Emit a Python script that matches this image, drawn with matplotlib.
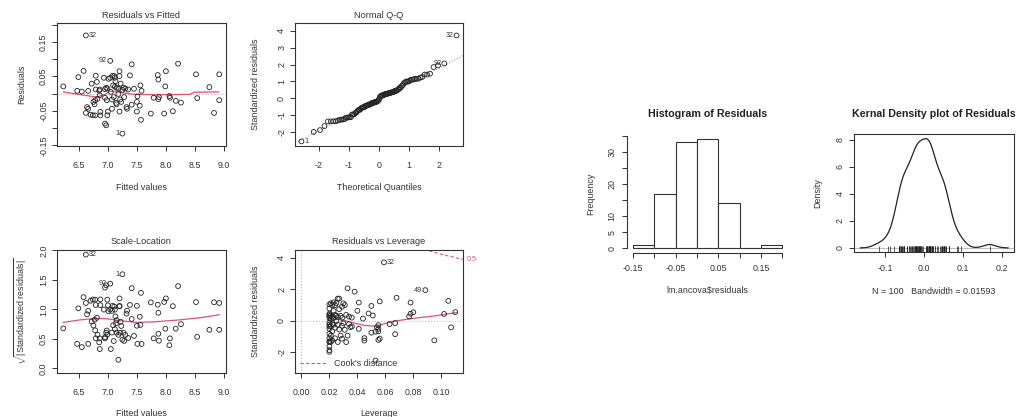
import numpy as np
import matplotlib
matplotlib.use("Agg")
import matplotlib.pyplot as plt
from matplotlib.lines import Line2D
from matplotlib import transforms
from statistics import NormalDist

plt.rcParams['font.family'] = ['Liberation Sans', 'DejaVu Sans']
plt.rcParams['mathtext.fontset'] = 'custom'
plt.rcParams['mathtext.rm'] = 'Liberation Sans'
plt.rcParams['mathtext.it'] = 'Liberation Sans:italic'
plt.rcParams['axes.unicode_minus'] = False

# model output, sorted by residual (largest first)
fitted = [6.62, 7.04, 8.21, 7.41, 6.58, 7.20, 8.00, 8.52, 8.92, 7.86,
          7.38, 7.08, 6.79, 7.11, 7.20, 6.49, 6.93, 7.04, 7.12, 7.01,
          7.87, 7.13, 6.81, 6.72, 7.22, 7.09, 7.56, 6.23, 7.99, 7.12,
          8.75, 6.97, 7.15, 7.27, 6.99, 7.18, 7.30, 7.45, 6.95, 6.79,
          6.86, 7.35, 7.25, 6.85, 6.47, 6.66, 7.58, 6.55, 7.05, 7.18,
          6.86, 8.06, 7.51, 7.10, 7.28, 7.88, 6.95, 7.79, 8.07, 8.54,
          6.82, 7.87, 7.07, 7.21, 6.78, 6.98, 8.92, 8.17, 6.75, 7.23,
          7.50, 8.26, 7.14, 6.77, 7.15, 7.41, 7.55, 6.64, 7.32, 6.66,
          7.07, 7.33, 8.12, 7.00, 7.20, 7.50, 6.87, 6.62, 8.83, 7.74,
          7.97, 6.70, 6.74, 6.78, 6.87, 6.99, 7.57, 6.95, 6.97, 7.25]
resid = [0.169, 0.095, 0.087, 0.085, 0.066, 0.065, 0.065, 0.056, 0.056, 0.054,
         0.053, 0.052, 0.052, 0.051, 0.051, 0.048, 0.046, 0.046, 0.046, 0.043,
         0.041, 0.036, 0.034, 0.029, 0.029, 0.024, 0.024, 0.021, 0.021, 0.020,
         0.019, 0.017, 0.017, 0.017, 0.015, 0.015, 0.015, 0.014, 0.013, 0.012,
         0.012, 0.012, 0.011, 0.009, 0.008, 0.008, 0.008, 0.006, 0.005, -0.001,
         -0.005, -0.007, -0.008, -0.010, -0.010, -0.010, -0.012, -0.012, -0.012, -0.013,
         -0.015, -0.016, -0.017, -0.017, -0.019, -0.019, -0.019, -0.021, -0.024, -0.024,
         -0.024, -0.026, -0.027, -0.031, -0.031, -0.032, -0.035, -0.039, -0.039, -0.044,
         -0.044, -0.044, -0.051, -0.052, -0.052, -0.052, -0.053, -0.056, -0.056, -0.058,
         -0.058, -0.061, -0.063, -0.063, -0.063, -0.063, -0.076, -0.087, -0.092, -0.116]
leverage = [0.059, 0.033, 0.0886, 0.038, 0.068, 0.026, 0.027, 0.105, 0.056, 0.023,
            0.041, 0.025, 0.078, 0.021, 0.030, 0.020, 0.024, 0.031, 0.022, 0.050,
            0.029, 0.020, 0.027, 0.040, 0.023, 0.080, 0.110, 0.048, 0.020, 0.078,
            0.102, 0.020, 0.032, 0.024, 0.051, 0.025, 0.021, 0.028, 0.020, 0.034,
            0.022, 0.077, 0.026, 0.036, 0.020, 0.029, 0.023, 0.044, 0.021, 0.025,
            0.020, 0.067, 0.030, 0.022, 0.034, 0.063, 0.020, 0.023, 0.026, 0.055,
            0.029, 0.021, 0.036, 0.020, 0.054, 0.035, 0.107, 0.024, 0.055, 0.020,
            0.041, 0.027, 0.031, 0.055, 0.022, 0.053, 0.050, 0.020, 0.067, 0.028,
            0.021, 0.033, 0.045, 0.056, 0.020, 0.024, 0.029, 0.055, 0.095, 0.022,
            0.045, 0.020, 0.026, 0.021, 0.032, 0.020, 0.020, 0.020, 0.020, 0.053]
sigma = 0.0468
n_coef = 4
bandwidth = 0.01593

# observation ids printed next to the extreme points
id_rows = [0, 1, 99]
id_names = ['32', '92', '1']
cook_rows = [0, 2]
cook_names = ['32', '49']

# red smoother lines
smooth1_x = [6.23, 6.52, 6.81, 6.95, 7.04, 7.15, 7.44, 7.73, 8.13, 8.42, 8.48, 8.91]
smooth1_y = [0.005, -0.003, -0.010, -0.002, 0.007, 0.005, -0.002, -0.003, -0.003, -0.002, 0.004, 0.005]
smooth3_x = [6.23, 6.5, 6.8, 7.0, 7.2, 7.5, 7.8, 8.2, 8.6, 8.92]
smooth3_y = [0.78, 0.82, 0.85, 0.84, 0.81, 0.78, 0.79, 0.82, 0.86, 0.91]
smooth4_x = [0.020, 0.027, 0.035, 0.045, 0.053, 0.065, 0.080, 0.095, 0.111]
smooth4_y = [0.02, 0.12, -0.10, -0.30, -0.36, -0.05, 0.15, 0.30, 0.52]

hist_edges = [-0.15, -0.10, -0.05, 0.0, 0.05, 0.10, 0.15, 0.20]

fitted = np.array(fitted)
resid = np.array(resid)
leverage = np.array(leverage)
std_res = resid / (sigma * np.sqrt(1 - leverage))
n = len(resid)

W, H = 1016, 417
fig = plt.figure(figsize=(W / 100, H / 100), dpi=100)
dark = '#333333'
red = '#DF536B'
grey = '#BEBEBE'
fs = 6.4


def box(x0, y0, x1, y1):
    return fig.add_axes([x0 / W, 1 - y1 / H, (x1 - x0) / W, (y1 - y0) / H])


def ftext(x, y, s, **kw):
    kw.setdefault('fontsize', fs)
    kw.setdefault('color', dark)
    fig.text(x / W, 1 - y / H, s, ha='center', va='center', **kw)


def style(ax, xpad=7.3, ypad=2.8):
    for sp in ax.spines.values():
        sp.set_color(dark)
        sp.set_linewidth(0.8)
    ax.tick_params(direction='out', length=3.6, width=0.7, colors=dark,
                   labelsize=fs)
    ax.tick_params(axis='x', pad=xpad)
    ax.tick_params(axis='y', pad=ypad, labelrotation=90)
    for lab in ax.get_yticklabels():
        lab.set_va('center')


def pts(ax, x, y):
    ax.scatter(x, y, s=12, facecolors='none', edgecolors='#222222',
               linewidths=0.6, zorder=3)


def label(ax, x, y, s, side):
    off = 2.2 if side == 'r' else -2.2
    ax.annotate(s, (x, y), xytext=(off, 0), textcoords='offset points',
                ha='left' if side == 'r' else 'right', va='center',
                fontsize=5.2, color=dark)


# ---- Residuals vs Fitted
ax1 = box(57, 23, 225.5, 146)
pts(ax1, fitted, resid)
ax1.axhline(0, color=grey, ls=':', lw=0.8)
ax1.plot(smooth1_x, smooth1_y, color=red, lw=0.9)
ax1.set_xlim(6.122, 9.028)
ax1.set_ylim(-0.152, 0.205)
ax1.set_xticks([6.5, 7.0, 7.5, 8.0, 8.5, 9.0])
ax1.set_yticks([-0.15, -0.10, -0.05, 0.0, 0.05, 0.10, 0.15, 0.20])
ax1.set_yticklabels(['-0.15', '', '-0.05', '', '0.05', '', '0.15', ''])
style(ax1)
for r, s, side in zip(id_rows, id_names, ['r', 'l', 'l']):
    label(ax1, fitted[r], resid[r], s, side)

# ---- Normal Q-Q
ax2 = box(295, 23, 463, 146)
order = np.argsort(std_res)
theo = np.array([NormalDist().inv_cdf((i + 0.5) / n) for i in range(n)])
pts(ax2, theo, std_res[order])
q_y = np.percentile(std_res, [25, 75])
q_x = np.array([NormalDist().inv_cdf(0.25), NormalDist().inv_cdf(0.75)])
slope = (q_y[1] - q_y[0]) / (q_x[1] - q_x[0])
ax2.axline((q_x[0], q_y[0]), slope=slope, color='#999999', ls=':', lw=0.8)
ax2.set_xlim(-2.79, 2.79)
ax2.set_ylim(-2.82, 4.46)
ax2.set_xticks([-2, -1, 0, 1, 2])
ax2.set_yticks([-2, -1, 0, 1, 2, 3, 4])
style(ax2)
rank = np.empty(n, dtype=int)
rank[order] = np.arange(n)
for r, s, side in zip(id_rows, id_names, ['l', 'l', 'r']):
    label(ax2, theo[rank[r]], std_res[r], s, side)

# ---- Scale-Location
ax3 = box(57, 250, 225.5, 373)
sl = np.sqrt(np.abs(std_res))
pts(ax3, fitted, sl)
ax3.plot(smooth3_x, smooth3_y, color=red, lw=0.9)
ax3.set_xlim(6.122, 9.028)
ax3.set_ylim(-0.077, 2.007)
ax3.set_xticks([6.5, 7.0, 7.5, 8.0, 8.5, 9.0])
ax3.set_yticks([0.0, 0.5, 1.0, 1.5, 2.0])
ax3.set_yticklabels(['0.0', '0.5', '1.0', '1.5', '2.0'])
style(ax3)
for r, s, side in zip(id_rows, id_names, ['r', 'l', 'l']):
    label(ax3, fitted[r], sl[r], s, side)

# ---- Residuals vs Leverage
ax4 = box(295, 250, 463, 373)
xmax = 0.1155
pts(ax4, leverage, std_res)
ax4.axhline(0, color=grey, ls=':', lw=0.8)
ax4.axvline(0, color=grey, ls=':', lw=0.8)
ax4.plot(smooth4_x, smooth4_y, color=red, lw=0.9)
hh = np.linspace(0.002, xmax, 101)
cook = np.sqrt(0.5 * n_coef * (1 - hh) / hh)
ax4.plot(hh, cook, color=red, ls=(0, (3, 2)), lw=0.8)
ax4.plot(hh, -cook, color=red, ls=(0, (3, 2)), lw=0.8)
ax4.set_xlim(-0.0046, xmax)
ax4.set_ylim(-3.34, 4.51)
ax4.set_xticks([0.0, 0.02, 0.04, 0.06, 0.08, 0.10])
ax4.set_xticklabels(['0.00', '0.02', '0.04', '0.06', '0.08', '0.10'])
ax4.set_yticks([-2, 0, 2, 4])
style(ax4)
for r, s, side in zip(cook_rows, cook_names, ['r', 'l']):
    label(ax4, leverage[r], std_res[r], s, side)
tr = transforms.blended_transform_factory(ax4.transAxes, ax4.transData)
ax4.text(1.02, np.sqrt(0.5 * n_coef * (1 - xmax) / xmax), '0.5', transform=tr,
         ha='left', va='center', color=red, fontsize=5.2)
ax4.legend([Line2D([], [], color=red, ls=(0, (3, 2)), lw=0.8)], ["Cook's distance"],
           loc='lower left', frameon=False, fontsize=fs, handlelength=3.0,
           borderaxespad=0.2, labelcolor=dark)

# captions and axis titles of the 2x2 block
for cx, cy, s in [(141, 15, 'Residuals vs Fitted'), (379, 15, 'Normal Q-Q'),
                  (141, 242, 'Scale-Location'), (379, 242, 'Residuals vs Leverage')]:
    ftext(cx, cy, s, fontsize=6.6)
ftext(141, 187, 'Fitted values')
ftext(379, 187, 'Theoretical Quantiles')
ftext(141, 414, 'Fitted values')
ftext(379, 414, 'Leverage')
ftext(21.5, 84.5, 'Residuals', rotation=90)
ftext(255, 84.5, 'Standardized residuals', rotation=90)
ftext(20.5, 311.5, r'$\sqrt{|\mathrm{Standardized\ residuals}|}$', rotation=90)
ftext(255, 311.5, 'Standardized residuals', rotation=90)

# ---- Histogram of residuals
ax5 = box(627, 134.5, 788.3, 252.5)
ax5.hist(resid, bins=hist_edges, facecolor='white', edgecolor=dark, linewidth=0.8)
ax5.set_xlim(-0.164, 0.214)
ax5.set_ylim(-1.36, 35.36)
ax5.spines['top'].set_visible(False)
ax5.spines['right'].set_visible(False)
ax5.spines['left'].set_bounds(0, 35)
ax5.spines['bottom'].set_bounds(-0.15, 0.20)
ax5.set_xticks(hist_edges)
ax5.set_xticklabels(['-0.15', '', '-0.05', '', '0.05', '', '0.15', ''])
ax5.set_yticks([0, 5, 10, 15, 20, 25, 30, 35])
ax5.set_yticklabels(['0', '5', '10', '', '20', '', '30', ''])
style(ax5, xpad=4.6, ypad=3.8)
ftext(707.5, 114, 'Histogram of Residuals', fontsize=7.7, fontweight='bold', color='#222222')
ftext(707.5, 291, 'lm.ancova$residuals')
ftext(591, 193.5, 'Frequency', rotation=90)

# ---- Kernel density of residuals
ax6 = box(854.3, 134.3, 1014, 252.3)
grid = np.linspace(resid.min() - 3 * bandwidth, resid.max() + 3 * bandwidth, 512)
dens = np.exp(-0.5 * ((grid[:, None] - resid[None, :]) / bandwidth) ** 2).sum(axis=1)
dens = dens / (n * bandwidth * np.sqrt(2 * np.pi))
ax6.axhline(0, color=grey, lw=0.8)
ax6.plot(grid, dens, color='#222222', lw=0.9)
span = dens.max() * 1.08
ax6.set_xlim(grid.min() - 0.04 * np.ptp(grid), grid.max() + 0.04 * np.ptp(grid))
ax6.set_ylim(-0.04 * dens.max(), dens.max() * 1.04)
ax6.vlines(resid, -0.04 * dens.max(), -0.04 * dens.max() + 0.05 * span,
           color='#222222', lw=0.5)
ax6.set_xticks([-0.1, 0.0, 0.1, 0.2])
ax6.set_xticklabels(['-0.1', '0.0', '0.1', '0.2'])
ax6.set_yticks([0, 2, 4, 6, 8])
style(ax6, xpad=4.6, ypad=3.3)
ftext(934, 114, 'Kernal Density plot of Residuals', fontsize=7.7, fontweight='bold', color='#222222')
ftext(934, 291, 'N = 100   Bandwidth = 0.01593')
ftext(818, 193.5, 'Density', rotation=90)

fig.savefig('out.png', dpi=100)
